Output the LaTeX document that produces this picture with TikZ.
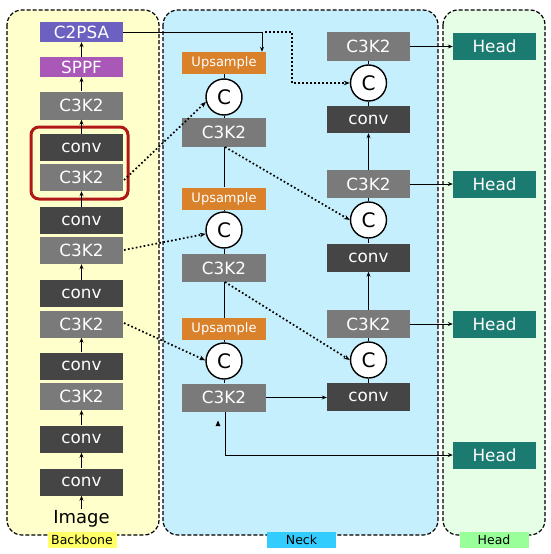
\documentclass[tikz,border=0pt]{standalone}
\usepackage{fontspec}
\setmainfont{DejaVu Sans}
\usetikzlibrary{arrows.meta,positioning,calc}
\definecolor{convc}{HTML}{454545}
\definecolor{c3kc}{HTML}{7A7A7A}
\definecolor{psac}{HTML}{6C60C0}
\definecolor{sppfc}{HTML}{A958B8}
\definecolor{upc}{HTML}{D9822B}
\definecolor{headc}{HTML}{1C7B70}
\definecolor{bbbg}{HTML}{FFFFCC}
\definecolor{nkbg}{HTML}{C6EFFD}
\definecolor{hdbg}{HTML}{E6FDE6}
\definecolor{bblab}{HTML}{FFFF66}
\definecolor{nklab}{HTML}{33CCFF}
\definecolor{hdlab}{HTML}{99FF99}
\definecolor{redbox}{HTML}{B01818}
\tikzset{
  blk/.style={rectangle, minimum width=83pt, minimum height=27pt, inner sep=0pt, text=white, font=\fontsize{16.8}{16.8}\selectfont},
  convbox/.style={blk, fill=convc},
  c3kbox/.style={blk, fill=c3kc},
  psabox/.style={blk, fill=psac, minimum height=20pt},
  sppfbox/.style={blk, fill=sppfc, minimum height=20pt},
  upbox/.style={blk, fill=upc, minimum width=84pt, minimum height=22pt, font=\fontsize{13}{13}\selectfont},
  headbox/.style={blk, fill=headc},
  catc/.style={circle, draw=black, line width=1.4pt, fill=white, minimum size=36pt, inner sep=0pt, font=\fontsize{20}{20}\selectfont},
  panel/.style={draw=black, dash pattern=on 4pt off 2pt, line width=1.2pt, rounded corners=15pt},
  plab/.style={rectangle, minimum width=69pt, minimum height=16pt, inner sep=0pt, font=\fontsize{12.5}{12.5}\selectfont},
  arr/.style={-{Stealth[length=5pt,width=4pt]}, line width=0.8pt},
  ln/.style={line width=0.8pt},
  dotl/.style={-{Stealth[length=6pt,width=4.5pt]}, line width=1.7pt, dash pattern=on 1.7pt off 2.3pt},
}
\begin{document}
\begin{tikzpicture}[x=1pt,y=-1pt]
\useasboundingbox (0,0) rectangle (550,554);
% panels
\draw[panel, fill=bbbg] (7,10) rectangle (159,535);
\draw[panel, fill=nkbg] (163,10) rectangle (438,535);
\draw[panel, fill=hdbg] (443,10) rectangle (545,535);
\node[plab, fill=bblab] (lbb) at (82,540) {Backbone};
\node[plab, fill=nklab] (lnk) at (301.5,540) {Neck};
\node[plab, fill=hdlab] (lhd) at (494,540) {Head};

% backbone
\node[psabox] (psa) at (81.5,32) {C2PSA};
\node[sppfbox] (sppf) at (81.5,67) {SPPF};
\node[c3kbox, minimum height=28pt] (b1) at (81.5,105.5) {C3K2};
\node[convbox] (b2) at (81.5,147.5) {conv};
\node[c3kbox] (b3) at (81.5,177.5) {C3K2};
\node[convbox] (b4) at (81.5,220.5) {conv};
\node[c3kbox] (b5) at (81.5,250.5) {C3K2};
\node[convbox] (b6) at (81.5,293.5) {conv};
\node[c3kbox] (b7) at (81.5,324) {C3K2};
\node[convbox] (b8) at (81.5,366) {conv};
\node[c3kbox] (b9) at (81.5,396.5) {C3K2};
\node[convbox] (b10) at (81.5,439) {conv};
\node[convbox] (b11) at (81.5,482) {conv};
\node[inner sep=1pt, font=\fontsize{18}{18}\selectfont] (img) at (81.5,519) {Image};
\draw[redbox, line width=3pt, rounded corners=8pt] (31,127) rectangle (128,199);

\draw[arr] (img) -- (b11);
\draw[arr] (b11) -- (b10);
\draw[arr] (b10) -- (b9);
\draw[arr] (b8) -- (b7);
\draw[arr] (b6) -- (b5);
\draw[arr] (b4) -- (b3);
\draw[arr] (b2) -- (b1);
\draw[arr] (b1) -- (sppf);
\draw[arr] (sppf) -- (psa);

% neck left
\node[upbox] (up1) at (224,63) {Upsample};
\node[catc] (cc1) at (224,97) {C};
\node[c3kbox, minimum width=84pt, minimum height=29pt] (n1) at (224,132.5) {C3K2};
\node[upbox] (up2) at (224,198.5) {Upsample};
\node[catc] (cc2) at (224,230) {C};
\node[c3kbox, minimum width=84pt, minimum height=28pt] (n2) at (224,268) {C3K2};
\node[upbox] (up3) at (224,329) {Upsample};
\node[catc] (cc3) at (224,361) {C};
\node[c3kbox, minimum width=84pt, minimum height=28pt] (n3) at (224,397.5) {C3K2};

\draw[ln] (up1) -- (cc1);
\draw[ln] (cc1) -- (n1);
\draw[ln] (n1) -- (up2);
\draw[ln] (up2) -- (cc2);
\draw[ln] (cc2) -- (n2);
\draw[ln] (n2) -- (up3);
\draw[ln] (up3) -- (cc3);
\draw[ln] (cc3) -- (n3);

% neck right
\node[c3kbox, minimum height=29pt] (r1) at (368.5,46.5) {C3K2};
\node[catc] (rc1) at (368.5,83) {C};
\node[convbox] (r2) at (368.5,119.5) {conv};
\node[c3kbox, minimum height=28pt] (r3) at (368.5,184) {C3K2};
\node[catc] (rc2) at (368.5,220) {C};
\node[convbox, minimum height=28pt] (r4) at (368.5,257.5) {conv};
\node[c3kbox, minimum height=28pt] (r5) at (368.5,324) {C3K2};
\node[catc] (rc3) at (368.5,360) {C};
\node[convbox, minimum height=28pt] (r6) at (368.5,397) {conv};

\draw[ln] (r1) -- (rc1);
\draw[ln] (rc1) -- (r2);
\draw[arr] (r3) -- (r2);
\draw[ln] (r3) -- (rc2);
\draw[ln] (rc2) -- (r4);
\draw[arr] (r5) -- (r4);
\draw[ln] (r5) -- (rc3);
\draw[ln] (rc3) -- (r6);
\draw[arr] (n3.east) -- (n3.east -| r6.west);

% heads
\node[headbox] (h1) at (494.5,46.5) {Head};
\node[headbox] (h2) at (494.5,184) {Head};
\node[headbox] (h3) at (494.5,324) {Head};
\node[headbox] (h4) at (494.5,455) {Head};
\draw[arr] (r1.east) -- (h1.west);
\draw[arr] (r3.east) -- (h2.west);
\draw[arr] (r5.east) -- (h3.west);
\coordinate (n3b) at (225,411.5);
\draw[arr] (n3b) |- (h4.west);
\fill[black] (215.6,426) -- (220.4,426) -- (218,420.5) -- cycle;

% C2PSA routes
\coordinate (k1) at (262,32);
\coordinate (k2) at (265,32);
\coordinate (k3) at (292,83);
\draw[ln] (psa.east) -- (k1);
\draw[arr] (k1) -- (k1 |- up1.north);
\draw[dotl] (k2) -| (k3) -- (rc1.west);

% skip connections
\coordinate (s1) at (124,180);
\coordinate (s2) at (124,250);
\coordinate (s3) at (124,323);
\draw[dotl] (s1) -- (cc1.195);
\draw[dotl] (s2) -- (cc2.192);
\draw[dotl] (s3) -- (cc3.178);
\coordinate (s4) at (225,147);
\coordinate (s5) at (225,282);
\draw[dotl] (s4) -- (rc2.west);
\draw[dotl] (s5) -- (rc3.west);
\end{tikzpicture}
\end{document}
